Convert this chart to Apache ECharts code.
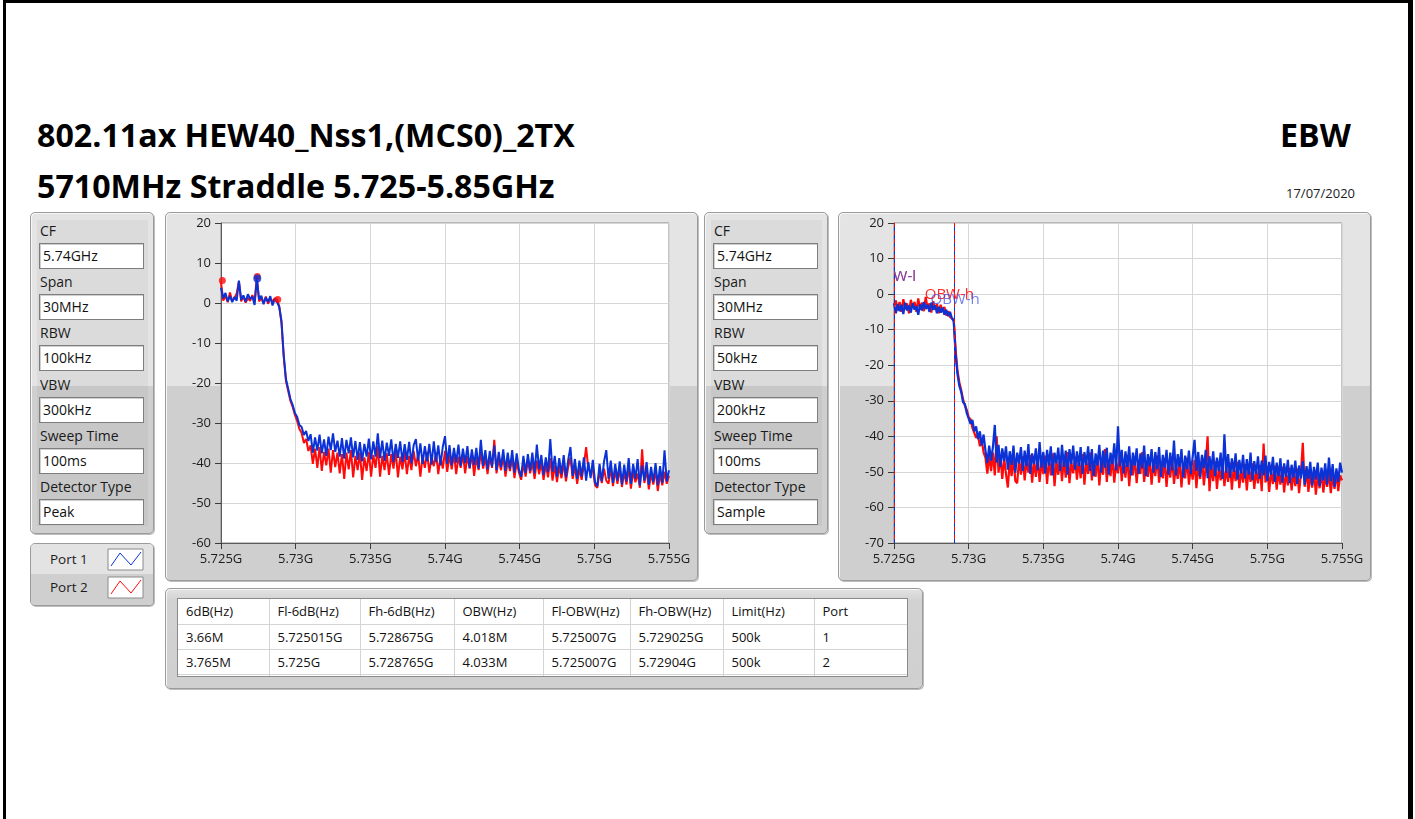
<!DOCTYPE html>
<html>
<head>
<meta charset="utf-8">
<title>EBW</title>
<script src="https://cdn.jsdelivr.net/npm/echarts@6/dist/echarts.min.js"></script>
<style>
*{box-sizing:border-box;}
html,body{margin:0;padding:0;width:1415px;height:819px;overflow:hidden;background:#fff;font-family:"Open Sans","Noto Sans",sans-serif;color:#111;}
#frame{position:absolute;left:3px;top:0;width:1410px;height:819px;border-left:3px solid #000;border-top:3px solid #000;border-right:5px solid #000;}
.title{position:absolute;font-weight:700;font-size:32.2px;line-height:32px;white-space:nowrap;color:#000;}
.panel{position:absolute;border:1px solid #9b9b9b;border-radius:5px;background:linear-gradient(#e4e4e4 0px,#e4e4e4 386px,#cfcfcf 386px,#cfcfcf 819px) fixed;box-shadow:1px 1px 0 #bdbdbd, inset 1px 1px 0 #f7f7f7;}
.inner{position:absolute;left:6px;top:7px;right:5px;bottom:7px;background:rgba(0,0,0,0.035);}
.lab{position:absolute;font-size:14px;line-height:18px;white-space:nowrap;color:#1a1a1a;}
.field{position:absolute;background:#fff;border:1px solid #7d7d7d;box-shadow:inset 1px 1px 0 #cfcfcf;font-size:14px;line-height:23px;padding-left:3px;white-space:nowrap;color:#111;}
#date{position:absolute;right:60px;top:185px;font-size:13px;line-height:16px;color:#222;}
#chart{position:absolute;left:0;top:0;width:1415px;height:819px;z-index:5;}
.tbox{position:absolute;left:11px;top:9px;width:731px;height:79px;background:#fff;border:1px solid #8a8a8a;overflow:hidden;}
.tbox table{border-collapse:collapse;table-layout:fixed;width:730px;font-size:13px;color:#111;}
.tbox td{height:25px;padding:0 0 0 8px;border-right:1px solid #d4d4d4;border-bottom:1px solid #d4d4d4;white-space:nowrap;overflow:hidden;line-height:24px;}
.lrow{position:absolute;left:0;right:0;font-size:13.5px;color:#1a1a1a;}
</style>
</head>
<body>
<div id="frame"></div>
<div class="title" style="left:37px;top:119px;">802.11ax HEW40_Nss1,(MCS0)_2TX</div>
<div class="title" style="left:37px;top:170px;">5710MHz Straddle 5.725-5.85GHz</div>
<div class="title" style="left:1280px;top:119px;">EBW</div>
<div id="date">17/07/2020</div>

<div class="panel" style="left:165px;top:212px;width:533px;height:369px;"></div>
<div class="panel" style="left:838px;top:212px;width:533px;height:369px;"></div>
<div class="panel" id="legendPanel" style="left:30px;top:543px;width:124px;height:63px;background:#cfcfcf;overflow:hidden;"></div>
<div class="panel" id="tablePanel" style="left:165px;top:588px;width:758px;height:101px;background:linear-gradient(#e2e2e2 0px,#d2d2d2 12px,#d0d0d0 101px);"></div>
<div id="chart"></div>

<script>
// ---------------- data ----------------
const titleLines = ['802.11ax HEW40_Nss1,(MCS0)_2TX', '5710MHz Straddle 5.725-5.85GHz'];
const settingsLabels = ['CF', 'Span', 'RBW', 'VBW', 'Sweep Time', 'Detector Type'];
const settingsLeft = ['5.74GHz', '30MHz', '100kHz', '300kHz', '100ms', 'Peak'];
const settingsRight = ['5.74GHz', '30MHz', '50kHz', '200kHz', '100ms', 'Sample'];
const portNames = ['Port 1', 'Port 2'];

const xTickValues = [5.725, 5.73, 5.735, 5.74, 5.745, 5.75, 5.755];
const xTickLabels = ['5.725G', '5.73G', '5.735G', '5.74G', '5.745G', '5.75G', '5.755G'];
const leftYRange = [-60, 20];
const rightYRange = [-70, 20];

// sweep grids (GHz)
const leftSweepStart = 5.725, leftSweepStep = 0.00015;
const rightSweepStart = 5.725, rightSweepStep = 0.000125;

// Left chart (RBW 100kHz, Peak) – dBm
const leftPort1 = [
 3.8, 1.2, 2.5, 0.4, 1.8, 0.2, 1.5, 0.6, 5.6, 0.8,
 1.9, 0.3, 2.2, 1.0, 1.6, -0.5, 6.0, 0.9, 1.8, -0.3,
 1.4, 0.2, 1.7, -0.6, 1.0, 0.3, -1.0, -4.5, -13, -19,
 -21.5, -24, -25.5, -27.5, -28.5, -30.5, -31, -33, -32, -34.5,
 -32.8, -37.4, -33.6, -36.9, -32.9, -37.6, -34.1, -38.2, -33.4, -36.8,
 -32.6, -37.2, -34.4, -38.4, -33.8, -38.9, -34.2, -37.6, -33.6, -38.6,
 -34.5, -39.2, -34.8, -39.6, -35.2, -38.4, -33.9, -39.1, -34.6, -38.4,
 -32.6, -38.8, -34.4, -39.5, -34.9, -38.2, -34.1, -39.8, -35.2, -38.7,
 -34.6, -39.8, -35.3, -39.2, -34.7, -40.1, -35.6, -34, -39.4, -35.1,
 -40.2, -35.8, -39.6, -35.2, -40.4, -34.6, -39.8, -35.6, -40.6, -36,
 -33.3, -40.2, -35.5, -40.6, -36.2, -39.9, -35.4, -40.8, -36.4, -40,
 -35.8, -41.2, -36.6, -40.5, -36.2, -41.4, -34.2, -40.7, -36.8, -41.6,
 -37, -40.9, -35.6, -41.8, -37.2, -41.1, -36.6, -42, -37.4, -41.4,
 -36.8, -42.4, -37.6, -41.6, -43.4, -38.2, -42.5, -37.8, -42, -37.4,
 -42.6, -35.4, -41.6, -38, -43, -38.6, -42.3, -34, -42.2, -38.2,
 -43.4, -38.8, -42.8, -38, -43.6, -39.2, -36, -43.2, -39, -44,
 -39.4, -43.4, -38.6, -44.4, -39.8, -43.8, -39.2, -44.8, -45.8, -40.2,
 -44.6, -39.6, -36.8, -44, -39.4, -45, -40.2, -44.4, -39.6, -45.4,
 -40.4, -44.6, -38.8, -45.2, -40.2, -44, -39, -45.6, -40.6, -44.4,
 -39.8, -45.4, -41, -44.8, -40, -45.6, -40.8, -45, -36.8, -44.6,
 -41.8
];
const leftPort2 = [
 5.2, 0.6, 1.8, 0.2, 2.6, 0.5, 1.2, 2.4, 5.4, 0.4,
 1.6, 0.1, 1.2, 0.5, 2.0, 0.3, 6.6, 0.4, 1.2, 0.0,
 1.6, -0.2, 1.0, 0.4, 1.2, 0.9, -0.8, -5, -13.5, -19.5,
 -22, -24.5, -26, -28, -29.5, -31.5, -32.5, -35, -34, -37,
 -35.6, -40.2, -36.4, -41.2, -36, -42, -37.2, -40.6, -36.4, -42.4,
 -36.8, -41, -37.4, -42.6, -37.8, -44, -37.4, -41.6, -36.8, -43.6,
 -38.2, -41.8, -37.4, -44.2, -38.6, -42, -37.2, -43.4, -38, -41.2,
 -35.8, -43.4, -38.2, -41.8, -37.6, -43, -37.8, -41.4, -37, -43.6,
 -38.4, -41.6, -37.4, -42.8, -38.2, -41.8, -37, -40.8, -37.8, -43.4,
 -38.4, -41.2, -37.2, -42.4, -38.6, -40.8, -37.4, -42.8, -38.2, -41.4,
 -37, -42.2, -38, -41.6, -37.6, -42.8, -38.4, -41.2, -37.8, -42.6,
 -38.2, -41.4, -37.6, -43.2, -38.6, -41.8, -37.2, -41.4, -38.8, -42.8,
 -38.4, -41.2, -34.2, -42.6, -39, -41.8, -38.2, -43.4, -39.4, -42,
 -38.6, -43.8, -39.8, -42.4, -44.2, -40.2, -43.4, -39.2, -42.6, -39.8,
 -44, -39.4, -42.8, -40, -44.2, -40.4, -43.6, -38.8, -44.4, -40.6,
 -44.8, -40.8, -43.8, -40, -44.6, -41, -38.6, -44, -40.8, -45.2,
 -41.4, -44.2, -40.6, -36, -41.6, -42.2, -41.8, -45.6, -46.2, -42.2,
 -45, -41.4, -44.4, -45.2, -41.2, -45.8, -41.8, -45.2, -41.4, -46,
 -42.2, -45.4, -41, -46.4, -42, -44.8, -42.6, -46.2, -36.6, -45,
 -41.6, -46.6, -42.6, -45.4, -41.8, -47, -42.8, -45.6, -42.2, -45.2,
 -43.2
];
const leftPort1Peaks = [[5.72743, 6.1]];
const leftPort2Peaks = [[5.72509, 5.6], [5.72743, 6.6], [5.7288, 0.9]];

// Right chart (RBW 50kHz, Sample) – dBm
const rightPort1 = [
 -2.6, -5.4, -2.8, -4.8, -3, -5.6, -2.4, -4.6, -3.2, -5.2,
 -2.6, -4.4, -3.4, -5.8, -2.8, -4.6, -2.2, -4.2, -3, -5,
 -2.4, -4.4, -3.2, -5.4, -3.6, -5.2, -3.8, -5.8, -4.4, -6.2,
 -5, -6.8, -7.6, -17, -22.5, -25.8, -27.5, -30.4, -31, -33.5,
 -33.2, -36.5, -35.4, -38.6, -37.2, -40.8, -38.6, -42.6, -39.5, -44,
 -47.5, -42.6, -46.8, -43, -36.8, -47.4, -42.4, -48.6, -43.4, -47,
 -42.8, -49.4, -44.2, -48, -42.6, -50.2, -44.6, -47.6, -43, -49.8,
 -44, -48.4, -42.2, -50.6, -44.8, -47.8, -43.4, -49.6, -41.6, -48.8,
 -44.4, -50.4, -43.8, -48.2, -42.8, -51, -44.6, -47.6, -43.2, -49.8,
 -42.4, -48.6, -44, -50.8, -43.6, -47.8, -42.6, -49.4, -44.2, -48.4,
 -43, -50.6, -44.4, -48, -42.8, -49.8, -43.6, -51.2, -44.8, -48.2,
 -42.4, -50.2, -44, -48.8, -43.2, -50.8, -44.6, -47.8, -42, -49.6,
 -37.2, -48.4, -43.8, -50.4, -44.2, -48.6, -42.8, -51, -44.6, -48.2,
 -43.4, -50.6, -44.8, -49, -42.6, -51.2, -45, -48.4, -43.6, -50.2,
 -44.4, -49.2, -43, -51.4, -45.2, -48.8, -43.8, -50.8, -44.6, -49.6,
 -41.2, -51, -45, -48.6, -43.6, -51.6, -45.4, -49.2, -44, -50.6,
 -45.8, -41, -49.8, -44.4, -51.4, -45.2, -49, -43.8, -51.8, -45.6,
 -49.4, -44.2, -51.2, -46, -49.8, -44.6, -52, -39.4, -50.2, -45,
 -51.6, -46.2, -50, -44.8, -52.2, -46.6, -50.4, -45.2, -51.8, -46.4,
 -50.8, -44.6, -52.4, -47, -50.6, -45.6, -52, -46.8, -51, -45.4,
 -52.6, -47.2, -50.8, -45.8, -52.8, -47.4, -51.2, -46.2, -53, -47.6,
 -51.4, -46.6, -53.2, -48, -51.6, -46.8, -53.4, -48.2, -51.8, -47,
 -53.6, -48.4, -52, -47.2, -53.8, -48.6, -52.2, -47.4, -54, -48.8,
 -52.4, -47.6, -53.6, -46, -52.6, -47.8, -54.2, -49, -52.8, -47.4,
 -50.2
];
const rightPort2 = [
 -3.2, -1.8, -4.6, -2.2, -5, -1.4, -4.2, -2.6, -5.4, -1.6,
 -3.8, -2.2, -5, -1.2, -4.4, -2.4, -4.8, -0.8, -4, -2.6,
 -5.2, -2, -4.4, -2.8, -5.4, -3, -5, -3.6, -6, -4.8,
 -6.4, -6, -7.2, -15.5, -21.5, -24.8, -27, -29.6, -31.4, -32.6,
 -34.6, -35.2, -37.6, -37.8, -40.4, -39.6, -42.8, -41, -44.6, -46,
 -50.5, -45.2, -49.8, -44.6, -51, -40, -50.2, -45.4, -52, -46,
 -50.6, -54.4, -47, -51.2, -45.8, -52.6, -53.2, -46.4, -50.8, -45.6,
 -52.4, -46.8, -50.2, -45.2, -53, -46.6, -51.4, -45.8, -52.8, -47.2,
 -50.6, -45.4, -53.4, -46.4, -51, -44.8, -54, -47, -50.8, -45.6,
 -52.6, -46.2, -51.6, -44.4, -53.2, -47.4, -50.4, -45.8, -52.2, -46.6,
 -51.8, -45, -53.6, -47, -50.6, -44.6, -52.4, -46.8, -51.4, -45.4,
 -53.8, -47.2, -50.8, -43.6, -52.8, -46.4, -51.2, -45.6, -53, -47.4,
 -50.4, -44.8, -52.6, -46.8, -51.6, -45.2, -54, -47.6, -51, -45.8,
 -53.2, -47, -50.6, -44.4, -52.8, -47.8, -51.4, -46, -53.6, -47.2,
 -51.2, -45.4, -53, -48, -51.8, -46.2, -54.2, -47.6, -51.6, -45.8,
 -53.4, -48.2, -52, -46.4, -54.4, -47.8, -51.8, -46, -53.6, -48.4,
 -52.2, -46.6, -54.6, -48, -52, -45.8, -53.8, -48.6, -40, -55.4,
 -48.2, -52.6, -47, -54.8, -48.8, -52.4, -46.8, -54, -49, -52.8,
 -47.4, -55, -48.6, -52.6, -47.2, -54.6, -49.2, -53, -47.8, -55.2,
 -49, -52.8, -47.6, -54.8, -49.4, -53.2, -48, -55.4, -42, -53,
 -48.4, -55.6, -49.6, -53.4, -48.2, -55, -49.8, -53.6, -48.6, -55.8,
 -50, -53.8, -48.8, -55.2, -50.2, -54, -49, -56, -50.4, -41.8,
 -54.2, -49.4, -55.6, -50.6, -54.4, -49.6, -56.4, -50.8, -54.6, -49.8,
 -55.8, -51, -54.2, -50, -56, -51.2, -54.8, -50.2, -55.4, -51,
 -52.4
];

// results table
const tableHeader = ['6dB(Hz)', 'Fl-6dB(Hz)', 'Fh-6dB(Hz)', 'OBW(Hz)', 'Fl-OBW(Hz)', 'Fh-OBW(Hz)', 'Limit(Hz)', 'Port'];
const tableRows = [
  ['3.66M', '5.725015G', '5.728675G', '4.018M', '5.725007G', '5.729025G', '500k', '1'],
  ['3.765M', '5.725G', '5.728765G', '4.033M', '5.725007G', '5.72904G', '500k', '2']
];
// OBW cursor label heights (dB) per port: [low, high]
const cursorNames = ['OBW-l', 'OBW-h'];
const cursorLabelY = [[4.8, -1.7], [4.8, -0.3]];

// ---------------- HTML parts ----------------
const colWidths = [91, 91, 94, 89, 87, 93, 91, 94];
const portColors = ['#0a32d6', '#ff0a0a'];

function buildSettings(left, values) {
  const p = document.createElement('div');
  p.className = 'panel';
  p.style.cssText = 'left:' + left + 'px;top:212px;width:124px;height:322px;';
  const inner = document.createElement('div');
  inner.className = 'inner';
  p.appendChild(inner);
  settingsLabels.forEach(function (lab, k) {
    const l = document.createElement('div');
    l.className = 'lab';
    l.textContent = lab;
    l.style.left = '9px';
    l.style.top = (9 + k * 51.2) + 'px';
    p.appendChild(l);
    const f = document.createElement('div');
    f.className = 'field';
    f.textContent = values[k];
    f.style.left = '8px';
    f.style.top = (30 + k * 51.2) + 'px';
    f.style.width = '105px';
    f.style.height = '26px';
    p.appendChild(f);
  });
  document.body.insertBefore(p, document.getElementById('chart'));
}
buildSettings(30, settingsLeft);
buildSettings(704, settingsRight);

(function buildLegend() {
  const lp = document.getElementById('legendPanel');
  portNames.forEach(function (n, k) {
    const r = document.createElement('div');
    r.className = 'lrow';
    r.style.top = (k * 30) + 'px';
    r.style.height = (k === 0 ? 30 : 33) + 'px';
    r.style.background = k === 0 ? '#e3e3e3' : '#cfcfcf';
    const t = document.createElement('div');
    t.style.cssText = 'position:absolute;left:19px;top:' + (k === 0 ? 6 : 4) + 'px;line-height:18px;';
    t.textContent = n;
    r.appendChild(t);
    lp.appendChild(r);
  });
})();

(function buildTable() {
  const tp = document.getElementById('tablePanel');
  const box = document.createElement('div');
  box.className = 'tbox';
  const t = document.createElement('table');
  const cg = document.createElement('colgroup');
  colWidths.forEach(function (w) { const c = document.createElement('col'); c.style.width = w + 'px'; cg.appendChild(c); });
  t.appendChild(cg);
  [tableHeader].concat(tableRows).concat([['', '', '', '', '', '', '', '']]).forEach(function (row) {
    const tr = document.createElement('tr');
    row.forEach(function (cell) { const td = document.createElement('td'); td.textContent = cell; tr.appendChild(td); });
    t.appendChild(tr);
  });
  box.appendChild(t);
  tp.appendChild(box);
})();

// ---------------- chart ----------------
function sweep(values, start, step) {
  return values.map(function (v, i) { return [+(start + i * step).toFixed(6), v]; });
}
const obwLow = tableRows.map(function (r) { return parseFloat(r[4]); });
const obwHigh = tableRows.map(function (r) { return parseFloat(r[5]); });

// label items drawn red first, then blue on top
const cursorItems = [];
[1, 0].forEach(function (port) {
  cursorItems.push({ x: obwLow[port], y: cursorLabelY[port][0], text: cursorNames[0], port: port, dx: 0 });
  cursorItems.push({ x: obwHigh[port], y: cursorLabelY[port][1], text: cursorNames[1], port: port, dx: port === 1 ? -5 : 1 });
});

function xLabel(v) {
  let best = 0;
  xTickValues.forEach(function (t, i) { if (Math.abs(t - v) < Math.abs(xTickValues[best] - v)) best = i; });
  return xTickLabels[best];
}

function xAxisCfg(gi) {
  return {
    gridIndex: gi, type: 'value', min: xTickValues[0], max: xTickValues[xTickValues.length - 1], interval: 0.005,
    axisLine: { show: true, onZero: false, lineStyle: { color: '#5a5a5a', width: 1 } },
    axisTick: { show: true, length: 6, lineStyle: { color: '#3a3a3a' } },
    axisLabel: { margin: 10, fontSize: 13, color: '#1c1c1c', fontFamily: '"Open Sans", sans-serif', formatter: xLabel, showMinLabel: true, showMaxLabel: true },
    splitLine: { show: true, lineStyle: { color: '#d6d6d6', width: 1 } }
  };
}
function yAxisCfg(gi, range) {
  return {
    gridIndex: gi, type: 'value', min: range[0], max: range[1], interval: 10,
    axisLine: { show: true, onZero: false, lineStyle: { color: '#5a5a5a', width: 1 } },
    axisTick: { show: true, length: 6, lineStyle: { color: '#3a3a3a' } },
    axisLabel: { margin: 10, fontSize: 13, color: '#1c1c1c', fontFamily: '"Open Sans", sans-serif', showMinLabel: true, showMaxLabel: true },
    splitLine: { show: true, lineStyle: { color: '#d6d6d6', width: 1 } }
  };
}
function traceSeries(name, gi, data, color, z, w) {
  return {
    name: name, type: 'line', xAxisIndex: gi, yAxisIndex: gi, data: data, showSymbol: false, symbol: 'none',
    sampling: null, lineStyle: { color: color, width: w }, itemStyle: { color: color }, z: z, silent: true
  };
}
function cursorMarks(port, dashOffset) {
  return {
    silent: true, symbol: ['none', 'none'], animation: false, precision: 8, label: { show: false },
    lineStyle: { color: portColors[port], type: [4, 4], dashOffset: dashOffset, width: 1 },
    emphasis: { disabled: true },
    data: [{ xAxis: obwLow[port] }, { xAxis: obwHigh[port] }]
  };
}

const rightP2 = traceSeries('Port 2', 1, sweep(rightPort2, rightSweepStart, rightSweepStep), portColors[1], 2, 2.2);
rightP2.markLine = cursorMarks(1, 4);
const rightP1 = traceSeries('Port 1', 1, sweep(rightPort1, rightSweepStart, rightSweepStep), portColors[0], 3, 2.2);
rightP1.markLine = cursorMarks(0, 0);

const chart = echarts.init(document.getElementById('chart'), null, { renderer: 'canvas' });
chart.setOption({
  animation: false,
  backgroundColor: 'transparent',
  textStyle: { fontFamily: '"Open Sans", sans-serif' },
  grid: [
    { left: 221, top: 223, width: 448, height: 320, show: true, backgroundColor: '#ffffff', borderColor: '#8a8a8a', borderWidth: 1 },
    { left: 894, top: 223, width: 448, height: 320, show: true, backgroundColor: '#ffffff', borderColor: '#8a8a8a', borderWidth: 1 }
  ],
  xAxis: [xAxisCfg(0), xAxisCfg(1)],
  yAxis: [yAxisCfg(0, leftYRange), yAxisCfg(1, rightYRange)],
  series: [
    traceSeries('Port 2', 0, sweep(leftPort2, leftSweepStart, leftSweepStep), portColors[1], 2, 2),
    traceSeries('Port 1', 0, sweep(leftPort1, leftSweepStart, leftSweepStep), portColors[0], 3, 2),
    { name: 'Port 2 peaks', type: 'scatter', xAxisIndex: 0, yAxisIndex: 0, data: leftPort2Peaks, symbolSize: 7, itemStyle: { color: portColors[1] }, z: 4, silent: true },
    { name: 'Port 1 peaks', type: 'scatter', xAxisIndex: 0, yAxisIndex: 0, data: leftPort1Peaks, symbolSize: 8, itemStyle: { color: portColors[0] }, z: 5, silent: true },
    rightP2,
    rightP1,
    {
      name: 'cursors', type: 'custom', xAxisIndex: 1, yAxisIndex: 1, clip: true, z: 6, silent: true,
      data: cursorItems.map(function (c) { return [c.x, c.y]; }),
      renderItem: function (params, api) {
        const it = cursorItems[params.dataIndex];
        const p = api.coord([it.x, it.y]);
        const blue = it.port === 0;
        return {
          type: 'text', x: p[0] + it.dx, y: p[1],
          style: {
            text: it.text, fill: blue ? '#3e4fe6' : '#ff2a2a', opacity: blue ? 0.72 : 1,
            font: '15px "Open Sans", sans-serif',
            align: 'center', verticalAlign: 'middle', textAlign: 'center', textVerticalAlign: 'middle'
          }
        };
      }
    }
  ],
  graphic: portNames.map(function (n, k) {
    const y0 = k === 0 ? 549 : 577;
    return {
      type: 'group', silent: true, children: [
        { type: 'rect', shape: { x: 108, y: y0, width: 35, height: 21 }, style: { fill: '#ffffff', stroke: '#8a8a8a', lineWidth: 1 } },
        { type: 'polyline', shape: { points: [[111, y0 + 17], [120, y0 + 4], [131, y0 + 16], [141, y0 + 3]] }, style: { stroke: portColors[k], fill: null, lineWidth: 1 } }
      ]
    };
  })
});
</script>
</body>
</html>
